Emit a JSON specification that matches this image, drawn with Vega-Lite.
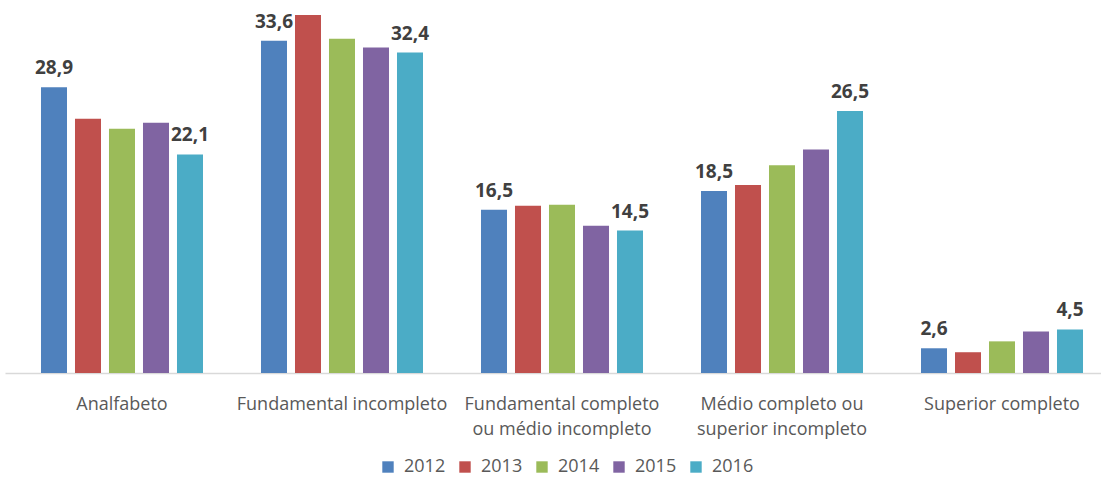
{
  "$schema": "https://vega.github.io/schema/vega-lite/v6.json",
  "width": 1101,
  "height": 361,
  "autosize": {"type": "none"},
  "padding": {"left": 0, "top": 12, "right": 0, "bottom": 106},
  "background": "white",
  "config": {"view": {"stroke": null}, "font": "Open Sans"},
  "data": {
    "values": [
      {"cat": "Analfabeto", "year": "2012", "value": 28.9, "label": "28,9"},
      {"cat": "Analfabeto", "year": "2013", "value": 25.7, "label": null},
      {"cat": "Analfabeto", "year": "2014", "value": 24.7, "label": null},
      {"cat": "Analfabeto", "year": "2015", "value": 25.3, "label": null},
      {"cat": "Analfabeto", "year": "2016", "value": 22.1, "label": "22,1"},
      {"cat": "Fundamental incompleto", "year": "2012", "value": 33.6, "label": "33,6"},
      {"cat": "Fundamental incompleto", "year": "2013", "value": 36.2, "label": null},
      {"cat": "Fundamental incompleto", "year": "2014", "value": 33.8, "label": null},
      {"cat": "Fundamental incompleto", "year": "2015", "value": 32.9, "label": null},
      {"cat": "Fundamental incompleto", "year": "2016", "value": 32.4, "label": "32,4"},
      {"cat": "Fundamental completo ou médio incompleto", "year": "2012", "value": 16.5, "label": "16,5"},
      {"cat": "Fundamental completo ou médio incompleto", "year": "2013", "value": 16.9, "label": null},
      {"cat": "Fundamental completo ou médio incompleto", "year": "2014", "value": 17.0, "label": null},
      {"cat": "Fundamental completo ou médio incompleto", "year": "2015", "value": 14.9, "label": null},
      {"cat": "Fundamental completo ou médio incompleto", "year": "2016", "value": 14.4, "label": "14,5"},
      {"cat": "Médio completo ou superior incompleto", "year": "2012", "value": 18.4, "label": "18,5"},
      {"cat": "Médio completo ou superior incompleto", "year": "2013", "value": 19.0, "label": null},
      {"cat": "Médio completo ou superior incompleto", "year": "2014", "value": 21.0, "label": null},
      {"cat": "Médio completo ou superior incompleto", "year": "2015", "value": 22.6, "label": null},
      {"cat": "Médio completo ou superior incompleto", "year": "2016", "value": 26.5, "label": "26,5"},
      {"cat": "Superior completo", "year": "2012", "value": 2.5, "label": "2,6"},
      {"cat": "Superior completo", "year": "2013", "value": 2.1, "label": null},
      {"cat": "Superior completo", "year": "2014", "value": 3.2, "label": null},
      {"cat": "Superior completo", "year": "2015", "value": 4.2, "label": null},
      {"cat": "Superior completo", "year": "2016", "value": 4.4, "label": "4,5"}
    ]
  },
  "encoding": {
    "x": {
      "field": "cat", "type": "nominal", "sort": null,
      "scale": {"range": [5, 1119], "paddingInner": 0.2636, "paddingOuter": 0.1636},
      "axis": {
        "title": null, "labelAngle": 0, "ticks": false, "domainColor": "#D9D9D9", "domainWidth": 1.5,
        "labelFont": "Open Sans", "labelFontSize": 18, "labelColor": "#595959", "labelPadding": 22,
        "labelLineHeight": 25, "labelBaseline": "top", "labelLimit": 0,
        "labelExpr": "datum.value == 'Fundamental completo ou médio incompleto' ? ['Fundamental completo', 'ou médio incompleto'] : datum.value == 'Médio completo ou superior incompleto' ? ['Médio completo ou', 'superior incompleto'] : datum.value"
      }
    },
    "xOffset": {"field": "year", "type": "nominal", "scale": {"paddingInner": 0.235, "paddingOuter": 0}},
    "y": {"field": "value", "type": "quantitative", "scale": {"domain": [0, 36.5], "nice": false}, "axis": null}
  },
  "layer": [
    {
      "mark": {"type": "bar"},
      "encoding": {
        "color": {
          "field": "year", "type": "nominal",
          "scale": {"domain": ["2012", "2013", "2014", "2015", "2016"], "range": ["#4F81BD", "#C0504D", "#9BBB59", "#8064A2", "#4BACC6"]},
          "legend": {
            "title": null, "orient": "none", "direction": "horizontal", "legendX": 379, "legendY": 446,
            "symbolType": "square", "symbolSize": 130, "labelFont": "Open Sans", "labelFontSize": 18,
            "labelColor": "#595959", "columnPadding": 10, "labelOffset": 7, "symbolStrokeWidth": 0
          }
        }
      }
    },
    {
      "transform": [{"filter": "datum.label != null"}],
      "mark": {"type": "text", "baseline": "alphabetic", "dy": -13, "font": "Open Sans", "fontWeight": "bold", "fontSize": 19, "color": "#404040"},
      "encoding": {"text": {"field": "label"}}
    }
  ]
}
